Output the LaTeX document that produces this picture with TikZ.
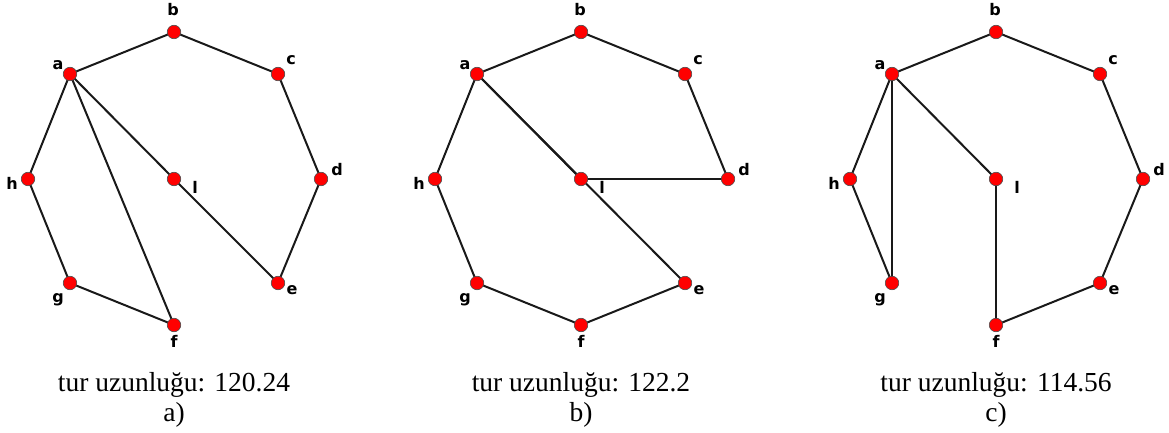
\documentclass[tikz,border=0pt]{standalone}
\usepackage{fontspec}
\setmainfont{Liberation Serif}
\newfontfamily\labfont{DejaVu Sans}
\usetikzlibrary{calc,backgrounds}
\tikzset{
  reddot/.style={circle,fill=red,draw=black!70,line width=0.6pt,minimum size=13.5pt,inner sep=0pt},
  nlab/.style={inner sep=0pt,font=\labfont\bfseries\fontsize{16}{16}\selectfont},
  tedge/.style={line width=2pt,black!90},
  captext/.style={inner sep=0pt,anchor=base,font=\fontsize{27.5}{30}\selectfont}
}
\newcommand{\mypanel}[5]{%
  \begin{scope}[xshift=#2pt]
    \node[reddot] (#1a) at (-104,-105+179) {};
    \node[reddot] (#1b) at (0,-147+179) {};
    \node[reddot] (#1c) at (104,-105+179) {};
    \node[reddot] (#1d) at (147,179) {};
    \node[reddot] (#1e) at (104,104+179) {};
    \node[reddot] (#1f) at (0,146+179) {};
    \node[reddot] (#1g) at (-104,104+179) {};
    \node[reddot] (#1h) at (-146,179) {};
    \node[reddot] (#1i) at (0,179) {};
    \node[nlab] (#1la) at ($(#1a)+(-12,-9)$) {a};
    \node[nlab] (#1lb) at ($(#1b)+(-1,-22)$) {b};
    \node[nlab] (#1lc) at ($(#1c)+(13,-14)$) {c};
    \node[nlab] (#1ld) at ($(#1d)+(16,-9)$) {d};
    \node[nlab] (#1le) at ($(#1e)+(14,7)$) {e};
    \node[nlab] (#1lf) at ($(#1f)+(0,16)$) {f};
    \node[nlab] (#1lg) at ($(#1g)+(-12,17)$) {g};
    \node[nlab] (#1lh) at ($(#1h)+(-16,4)$) {h};
    \node[nlab] (#1li) at ($(#1i)+(21,8)$) {l};
    \begin{pgfonlayer}{background}
      \foreach \u/\v in {#5} { \draw[tedge] (#1\u.center) -- (#1\v.center); }
    \end{pgfonlayer}
    \node[captext] (#1cap) at (0,391) {tur uzunluğu: #3};
    \node[captext] (#1let) at (0,421) {#4)};
  \end{scope}
}
\begin{document}
\begin{tikzpicture}[x=1pt,y=-1pt]
\useasboundingbox (0,0) rectangle (1169,433);
\mypanel{A}{174}{120.24}{a}{a/b,b/c,c/d,d/e,e/i,i/a,a/f,f/g,g/h,h/a}
\mypanel{B}{581}{122.2}{b}{a/b,b/c,c/d,d/i,i/a,a/e,e/f,f/g,g/h,h/a}
\mypanel{C}{996}{114.56}{c}{a/b,b/c,c/d,d/e,e/f,f/i,i/a,a/g,g/h,h/a}
\end{tikzpicture}
\end{document}
